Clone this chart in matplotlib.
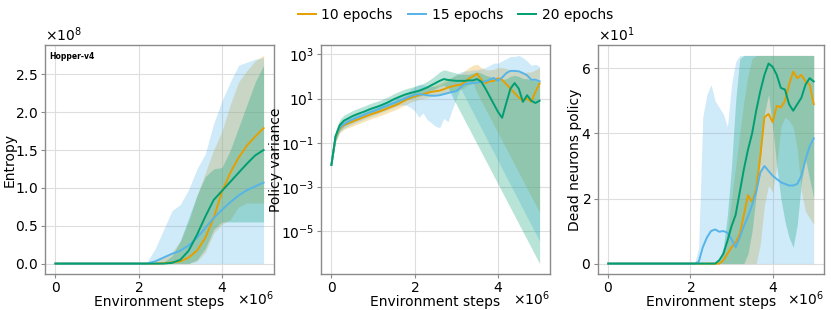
import numpy as np
import matplotlib
matplotlib.use("Agg")
import matplotlib.pyplot as plt
from matplotlib.ticker import ScalarFormatter, NullLocator, FixedLocator

plt.rcParams['font.family'] = ['DejaVu Sans']
plt.rcParams['axes.formatter.use_mathtext'] = True

# ---------------- data ----------------
labels = ["10 epochs", "15 epochs", "20 epochs"]
colors = ["#E69F00", "#56B4E9", "#009E73"]

# Panel 1: entropy (x in millions of steps, values in units of 1e8)
steps_ent = [0.0, 0.2, 0.4, 0.6, 0.8, 1.0, 1.2, 1.4, 1.6, 1.8, 2.0, 2.2, 2.4,
             2.6, 2.8, 3.0, 3.2, 3.4, 3.6, 3.8, 4.0, 4.2, 4.4, 4.6, 4.8, 5.0]
ent_10_mean = [0]*12 + [0.0, 0.005, 0.015, 0.03, 0.08, 0.17, 0.34, 0.6, 0.95, 1.2, 1.4, 1.56, 1.68, 1.79]
ent_10_hi = [0]*12 + [0.02, 0.08, 0.15, 0.3, 0.55, 0.9, 1.2, 1.5, 1.75, 2.1, 2.4, 2.55, 2.68, 2.75]
ent_10_lo = [0]*12 + [0, 0, 0, 0, 0, 0.03, 0.15, 0.4, 0.52, 0.58, 0.75, 0.8, 0.8, 0.8]
ent_15_mean = [0]*11 + [0.0, 0.03, 0.08, 0.13, 0.17, 0.24, 0.34, 0.47, 0.6, 0.71, 0.81, 0.9, 0.97, 1.02, 1.07]
ent_15_hi = [0]*11 + [0.02, 0.2, 0.45, 0.7, 0.78, 0.98, 1.25, 1.45, 1.85, 2.15, 2.4, 2.62, 2.66, 2.7, 2.72]
ent_15_lo = [0]*26
ent_20_mean = [0]*13 + [0.0, 0.01, 0.05, 0.17, 0.38, 0.62, 0.84, 0.96, 1.08, 1.2, 1.32, 1.43, 1.5]
ent_20_hi = [0]*13 + [0.02, 0.1, 0.3, 0.6, 0.9, 1.15, 1.25, 1.27, 1.5, 1.8, 2.1, 2.4, 2.62]
ent_20_lo = [0]*13 + [0, 0, 0, 0, 0.05, 0.2, 0.45, 0.55, 0.55, 0.55, 0.55, 0.55, 0.55]

# Panels 2 and 3 share a finer step grid (millions of steps)
steps_fine = [0.0, 0.1, 0.2, 0.3, 0.4, 0.5, 0.6, 0.7, 0.8, 0.9,
              1.0, 1.1, 1.2, 1.3, 1.4, 1.5, 1.6, 1.7, 1.8, 1.9,
              2.0, 2.1, 2.2, 2.3, 2.4, 2.5, 2.6, 2.7, 2.8, 2.9,
              3.0, 3.1, 3.2, 3.3, 3.4, 3.5, 3.6, 3.7, 3.8, 3.9,
              4.0, 4.1, 4.2, 4.3, 4.4, 4.5, 4.6, 4.7, 4.8, 4.9, 5.0]

# Panel 2: policy variance, stored as log10 of the value
var_10_log = [-2.0, -0.75, -0.35, -0.2, -0.12, -0.05, 0.03, 0.1, 0.18, 0.25, 0.32, 0.38, 0.45, 0.52, 0.6, 0.67,
              0.75, 0.85, 0.95, 1.03, 1.1, 1.16, 1.2, 1.25, 1.3, 1.33, 1.36, 1.42, 1.5, 1.55, 1.6, 1.62, 1.75,
              1.9, 2.0, 2.12, 1.85, 1.7, 1.78, 1.8, 1.92, 1.85, 1.65, 1.45, 1.25, 1.05, 0.9, 1.0, 0.85, 1.3, 1.68]
var_10_hi_log = [-1.95, -0.55, -0.15, 0.0, 0.08, 0.15, 0.23, 0.3, 0.38, 0.45, 0.52, 0.58, 0.65, 0.72, 0.8, 0.87,
                 0.95, 1.05, 1.15, 1.23, 1.3, 1.36, 1.42, 1.48, 1.55, 1.62, 1.7, 1.8, 1.9, 1.98, 2.05, 2.12, 2.25,
                 2.4, 2.5, 2.55, 2.4, 2.3, 2.3, 2.32, 2.4, 2.4, 2.35, 2.3, 2.25, 2.2, 2.15, 2.2, 2.2, 2.3, 2.4]
var_10_lo_log = [-2.05, -0.95, -0.55, -0.4, -0.32, -0.25, -0.17, -0.1, -0.02, 0.05, 0.12, 0.18, 0.25, 0.32, 0.4,
                 0.47, 0.55, 0.65, 0.75, 0.83, 0.9, 0.96, 1.0, 1.05, 1.1, 1.13, 1.16, 1.2, 1.28, 1.33, 1.38, 1.4,
                 1.5, 1.62, 1.7, 1.25, 0.89, 0.53, 0.17, -0.19, -0.55, -0.91, -1.27, -1.63, -1.99, -2.35, -2.71,
                 -3.07, -3.43, -3.79, -4.15]
var_15_log = [-2.0, -0.7, -0.3, -0.15, -0.05, 0.05, 0.13, 0.2, 0.28, 0.36, 0.43, 0.5, 0.58, 0.65, 0.73, 0.8,
              0.88, 0.95, 1.03, 1.1, 1.17, 1.2, 1.18, 1.15, 1.13, 1.13, 1.15, 1.2, 1.25, 1.3, 1.33, 1.5, 1.65,
              1.68, 1.7, 1.72, 1.75, 1.78, 1.85, 1.93, 1.8, 1.95, 2.15, 2.25, 2.25, 2.23, 2.15, 2.05, 1.85, 1.85, 1.78]
var_15_hi_log = [-1.95, -0.5, -0.1, 0.05, 0.15, 0.25, 0.33, 0.4, 0.48, 0.56, 0.63, 0.7, 0.78, 0.85, 0.93, 1.0,
                 1.08, 1.15, 1.25, 1.4, 1.55, 1.65, 1.62, 1.58, 1.55, 1.55, 1.6, 1.7, 1.8, 1.95, 2.1, 2.2, 2.25,
                 2.25, 2.3, 2.3, 2.35, 2.4, 2.5, 2.6, 2.6, 2.7, 2.8, 2.9, 2.9, 2.95, 2.85, 2.7, 2.5, 2.55, 2.45]
var_15_lo_log = [-2.05, -0.9, -0.5, -0.35, -0.25, -0.15, -0.07, 0.0, 0.08, 0.16, 0.23, 0.3, 0.38, 0.45, 0.53,
                 0.6, 0.68, 0.72, 0.7, 0.6, 0.45, 0.15, 0.35, 0.05, -0.1, -0.25, -0.32, 0.1, -0.05, 0.5, 1.0,
                 1.47, 1.1, 0.74, 0.38, 0.01, -0.35, -0.71, -1.08, -1.44, -1.81, -2.17, -2.54, -2.9, -3.26,
                 -3.63, -3.99, -4.36, -4.72, -5.08, -5.45]
var_20_log = [-2.0, -0.7, -0.2, 0.0, 0.1, 0.2, 0.28, 0.35, 0.42, 0.5, 0.57, 0.63, 0.7, 0.78, 0.87, 0.97, 1.05,
              1.13, 1.2, 1.25, 1.3, 1.35, 1.42, 1.5, 1.6, 1.7, 1.8, 1.88, 1.84, 1.82, 1.8, 1.8, 1.8, 1.82, 1.82,
              1.88, 1.76, 1.45, 1.1, 0.75, 0.4, 0.13, 0.8, 1.45, 1.7, 1.45, 0.85, 1.15, 0.9, 0.8, 0.9]
var_20_hi_log = [-1.95, -0.45, 0.05, 0.25, 0.35, 0.45, 0.53, 0.6, 0.67, 0.75, 0.82, 0.88, 0.95, 1.03, 1.12, 1.22,
                 1.3, 1.38, 1.45, 1.5, 1.55, 1.6, 1.68, 1.78, 1.9, 2.05, 2.2, 2.3, 2.25, 2.2, 2.15, 2.1, 2.1, 2.1,
                 2.15, 2.2, 2.15, 2.05, 2.0, 1.95, 1.9, 1.85, 1.9, 2.0, 2.05, 2.0, 1.9, 1.9, 1.85, 1.8, 1.8]
var_20_lo_log = [-2.05, -0.95, -0.45, -0.25, -0.15, -0.05, 0.03, 0.1, 0.17, 0.25, 0.32, 0.38, 0.45, 0.53, 0.62,
                 0.72, 0.8, 0.88, 0.95, 1.0, 1.05, 1.1, 1.17, 1.25, 1.35, 1.45, 1.55, 1.6, 1.5, 1.1, 0.74, 0.38,
                 0.02, -0.34, -0.7, -1.06, -1.42, -1.78, -2.14, -2.5, -2.86, -3.22, -3.58, -3.94, -4.3, -4.66,
                 -5.02, -5.38, -5.74, -6.1, -6.46]

# Panel 3: dead neurons in the policy
dead_10_mean = [0]*28 + [1, 3, 5, 6.5, 9, 15, 21, 19, 23, 33, 45, 46, 43.5, 48.5, 48, 50, 55, 59, 57, 58, 56, 55, 49]
dead_10_hi = [0]*28 + [3, 10, 20, 30, 40, 50, 58, 63] + [64]*15
dead_10_lo = [0]*37 + [6, 18, 24, 22, 30, 42, 45, 44, 42, 35, 22, 16, 14, 12]
dead_15_mean = [0]*22 + [0.5, 5, 8, 10, 10.5, 9.8, 10, 9.5, 7.5, 5, 8, 11.5, 14.5, 18, 22, 28, 30, 28.5, 27, 26,
                         25, 24.5, 24, 24, 24.5, 27, 32, 36, 38.5]
dead_15_hi = [0]*22 + [5, 45, 52, 55, 50, 48, 46, 42, 55, 62, 64] + [64]*18
dead_15_lo = [0]*51
dead_20_mean = [0]*27 + [1, 3, 7, 11.5, 15, 22, 29, 35, 40, 47, 53, 58, 61.5, 60.5, 58, 54, 53.5, 49, 47, 49, 51,
                         55, 57, 56]
dead_20_hi = [0]*27 + [1, 5, 15, 30, 50, 63] + [64]*18
dead_20_lo = [0]*34 + [3, 10, 21, 32, 46, 52, 42, 30, 20, 13, 8, 5, 12, 25, 32, 26, 20]

# ---------------- figure ----------------
W, H = 831, 310
fig = plt.figure(figsize=(W/100, H/100), dpi=100)

def axpos(x0, x1, y0=45, y1=274):
    return [x0/W, 1 - y1/H, (x1-x0)/W, (y1-y0)/H]

ax1 = fig.add_axes(axpos(45, 274))
ax2 = fig.add_axes(axpos(321, 550))
ax3 = fig.add_axes(axpos(598, 824))

FS_TICK = 10
FS_LAB = 10
ALPHA = 0.28
SPINE = "#8a8a8a"

def style(ax):
    ax.set_axisbelow(True)
    ax.grid(True, color="#dedede", lw=0.8)
    for s in ax.spines.values():
        s.set_color(SPINE)
        s.set_linewidth(1.0)
    ax.tick_params(labelsize=FS_TICK, color=SPINE, length=3, width=0.8, pad=2)
    ax.set_xlabel("Environment steps", fontsize=FS_LAB, labelpad=0)
    ax.xaxis.set_major_locator(FixedLocator([0, 2e6, 4e6]))
    fx = ScalarFormatter(useMathText=True)
    fx.set_powerlimits((0, 0))
    ax.xaxis.set_major_formatter(fx)
    ax.xaxis.get_offset_text().set_visible(False)
    ax.text(1.0, -0.11, r"$\times\mathdefault{10^{6}}$", transform=ax.transAxes,
            ha="right", va="center", fontsize=FS_TICK)

xs_ent = np.array(steps_ent) * 1e6
xs_f = np.array(steps_fine) * 1e6

# Panel 1
ent_sets = [(ent_10_mean, ent_10_lo, ent_10_hi), (ent_15_mean, ent_15_lo, ent_15_hi), (ent_20_mean, ent_20_lo, ent_20_hi)]
for (m, lo, hi), c, lab in zip(ent_sets, colors, labels):
    ax1.fill_between(xs_ent, np.array(lo)*1e8, np.array(hi)*1e8, color=c, alpha=ALPHA, lw=0)
    ax1.plot(xs_ent, np.array(m)*1e8, color=c, lw=1.4, label=lab)
style(ax1)
ax1.set_ylabel("Entropy", fontsize=FS_LAB, labelpad=-1)
ax1.yaxis.set_major_locator(FixedLocator([0, 0.5e8, 1.0e8, 1.5e8, 2.0e8, 2.5e8]))
fy = ScalarFormatter(useMathText=True)
fy.set_powerlimits((0, 0))
ax1.yaxis.set_major_formatter(fy)
ax1.yaxis.get_offset_text().set_fontsize(FS_TICK)
ax1.text(0.02, 0.97, "Hopper-v4", transform=ax1.transAxes, fontsize=5.5, fontweight="bold", va="top", ha="left")

# Panel 2
var_sets = [(var_10_log, var_10_lo_log, var_10_hi_log), (var_15_log, var_15_lo_log, var_15_hi_log),
            (var_20_log, var_20_lo_log, var_20_hi_log)]
ax2.set_yscale("log")
for (m, lo, hi), c in zip(var_sets, colors):
    ax2.fill_between(xs_f, 10**np.array(lo), 10**np.array(hi), color=c, alpha=ALPHA, lw=0)
    ax2.plot(xs_f, 10**np.array(m), color=c, lw=1.4)
style(ax2)
ax2.set_ylabel("Policy variance", fontsize=FS_LAB, labelpad=-2)
ax2.yaxis.set_major_locator(FixedLocator([1e-5, 1e-3, 1e-1, 1e1, 1e3]))
ax2.yaxis.set_minor_locator(NullLocator())

# Panel 3
dead_sets = [(dead_10_mean, dead_10_lo, dead_10_hi), (dead_15_mean, dead_15_lo, dead_15_hi),
             (dead_20_mean, dead_20_lo, dead_20_hi)]
for (m, lo, hi), c in zip(dead_sets, colors):
    ax3.fill_between(xs_f, lo, hi, color=c, alpha=ALPHA, lw=0)
    ax3.plot(xs_f, m, color=c, lw=1.4)
style(ax3)
ax3.set_ylabel("Dead neurons policy", fontsize=FS_LAB, labelpad=-1)
ax3.yaxis.set_major_locator(FixedLocator([0, 20, 40, 60]))
fy3 = ScalarFormatter(useMathText=True)
fy3.set_powerlimits((0, 0))
ax3.yaxis.set_major_formatter(fy3)
ax3.yaxis.get_offset_text().set_fontsize(FS_TICK)

handles, labs = ax1.get_legend_handles_labels()
fig.legend(handles, labs, loc="center", bbox_to_anchor=(0.548, 0.952), ncol=3, frameon=False,
           fontsize=10, handlelength=1.3, handletextpad=0.4, columnspacing=1.1)

fig.savefig("out.png", dpi=100)
